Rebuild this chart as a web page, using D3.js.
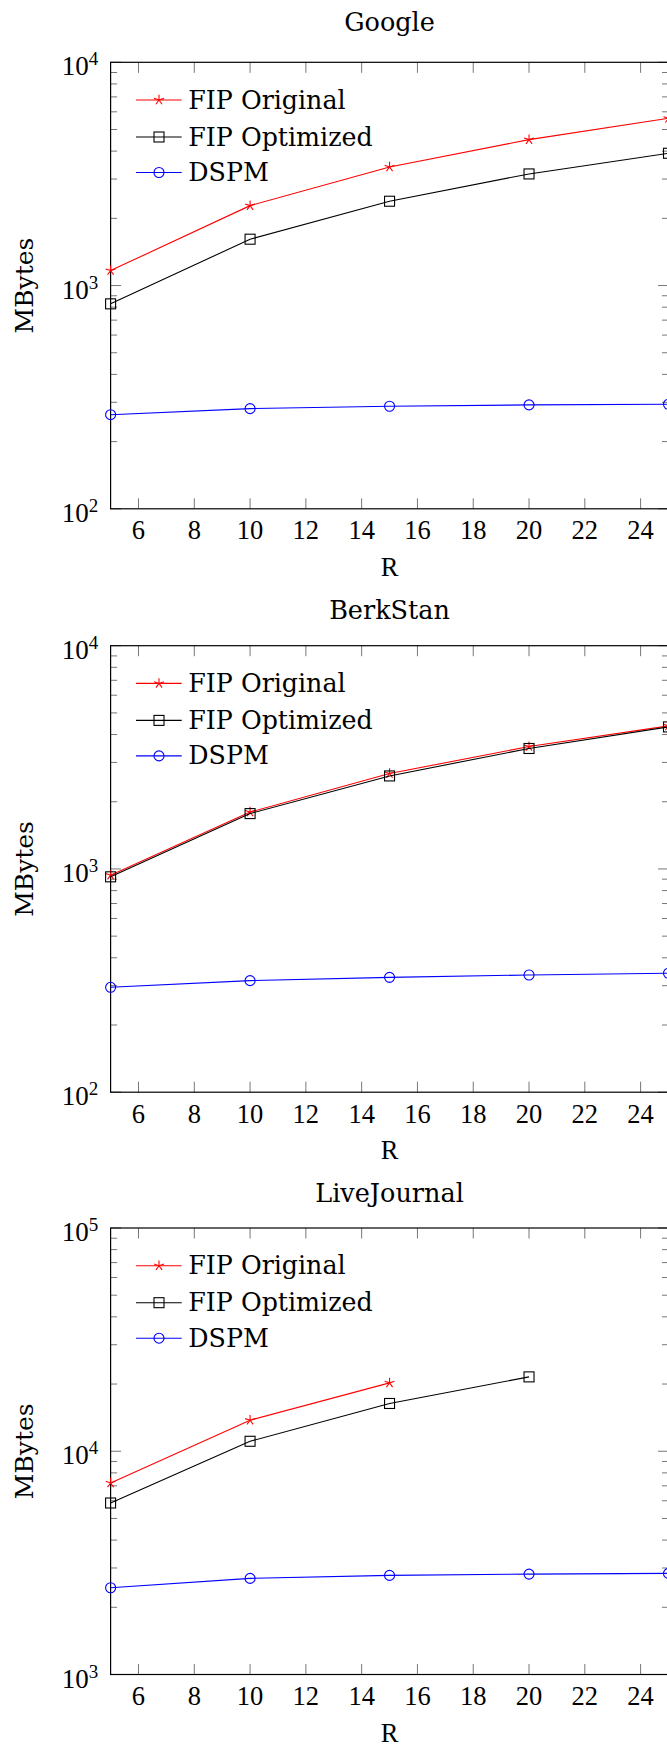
<!DOCTYPE html>
<html>
<head>
<meta charset="utf-8">
<script src="https://cdn.jsdelivr.net/npm/d3@7"></script>
<style>
  html, body { margin: 0; padding: 0; background: #fff; }
  svg { display: block; }
  text { font-family: "Liberation Serif", "Times New Roman", serif; fill: #000; }
  text.slab { font-family: "DejaVu Serif", serif; }
</style>
</head>
<body>
<svg id="chart" width="667" height="1747"></svg>
<script>
// ---------------- data ----------------
const R = [5, 10, 15, 20, 25];
const xTicks = [6, 8, 10, 12, 14, 16, 18, 20, 22, 24];
const chartTitles = ["Google", "BerkStan", "LiveJournal"];
const seriesNames = ["FIP Original", "FIP Optimized", "DSPM"];

const googleOriginal  = [1167, 2280, 3398, 4505, 5613];
const googleOptimized = [828, 1613, 2386, 3162, 3913];
const googleDSPM      = [264, 281, 288, 292, 294];

const berkOriginal  = [938, 1798, 2675, 3533, 4375];
const berkOptimized = [922, 1770, 2610, 3464, 4327];
const berkDSPM      = [295, 316, 327, 335, 341];

const ljOriginal  = [7211, 13772, 20244, null, null];
const ljOptimized = [5865, 11084, 16368, 21533, null];
const ljDSPM      = [2447, 2695, 2779, 2817, 2837];

const yDomains = [[1e2, 1e4], [1e2, 1e4], [1e3, 1e5]];
const yExponents = [[2, 3, 4], [2, 3, 4], [3, 4, 5]];

const chartSeries = [
  [googleOriginal, googleOptimized, googleDSPM],
  [berkOriginal, berkOptimized, berkDSPM],
  [ljOriginal, ljOptimized, ljDSPM]
];

// ---------------- layout / style ----------------
const plotTops = [62.3, 645.7, 1228];
const titleOffsets = [31.6, 26.4, 26.3];
const plotH = 446.5;
const plotL = 110.6, plotR = 668.5;
const colors = ["#ff0000", "#000000", "#0000ff"];
const markers = ["star", "square", "circle"];

const svg = d3.select("#chart");

function drawMarker(g, type, cx, cy, color) {
  if (type === "star") {
    const r = 5.2;
    for (let k = 0; k < 5; k++) {
      const a = (90 + k * 72) * Math.PI / 180;
      g.append("line")
        .attr("x1", cx).attr("y1", cy)
        .attr("x2", cx + r * Math.cos(a)).attr("y2", cy - r * Math.sin(a))
        .attr("stroke", color).attr("stroke-width", 1.1);
    }
  } else if (type === "square") {
    g.append("rect")
      .attr("x", cx - 5).attr("y", cy - 5)
      .attr("width", 10).attr("height", 10)
      .attr("fill", "none").attr("stroke", color).attr("stroke-width", 1.1);
  } else {
    g.append("circle")
      .attr("cx", cx).attr("cy", cy).attr("r", 5)
      .attr("fill", "none").attr("stroke", color).attr("stroke-width", 1.1);
  }
}

chartTitles.forEach((title, ci) => {
  const top = plotTops[ci];
  const bottom = top + plotH;
  const x = d3.scaleLinear().domain([5, 25]).range([plotL, plotR]);
  const y = d3.scaleLog().domain(yDomains[ci]).range([bottom, top]);
  const g = svg.append("g");

  // title
  g.append("text").attr("class", "slab")
    .attr("x", (plotL + plotR) / 2).attr("y", top - titleOffsets[ci])
    .attr("text-anchor", "middle").attr("font-size", 25.5)
    .text(title);

  // minor y ticks (both sides)
  const [e0, e1] = yExponents[ci];
  const minor = [];
  [e0, e1].forEach(e => { for (let m = 2; m <= 9; m++) minor.push(m * Math.pow(10, e)); });
  minor.forEach(v => {
    g.append("line").attr("x1", plotL).attr("x2", plotL + 6.5)
      .attr("y1", y(v)).attr("y2", y(v)).attr("stroke", "#777").attr("stroke-width", 1);
    g.append("line").attr("x1", plotR).attr("x2", plotR - 6.5)
      .attr("y1", y(v)).attr("y2", y(v)).attr("stroke", "#777").attr("stroke-width", 1);
  });
  // major y ticks
  yExponents[ci].forEach(e => {
    const v = Math.pow(10, e);
    g.append("line").attr("x1", plotL).attr("x2", plotL + 10.5)
      .attr("y1", y(v)).attr("y2", y(v)).attr("stroke", "#777").attr("stroke-width", 1);
    g.append("line").attr("x1", plotR).attr("x2", plotR - 10.5)
      .attr("y1", y(v)).attr("y2", y(v)).attr("stroke", "#777").attr("stroke-width", 1);
    const t = g.append("text")
      .attr("x", plotL - 12.3).attr("y", y(v) + 13)
      .attr("text-anchor", "end").attr("font-size", 27);
    t.append("tspan").text("10");
    t.append("tspan").attr("font-size", 19).attr("dy", -10).text(String(e));
  });

  // x ticks (top and bottom)
  xTicks.forEach(tv => {
    g.append("line").attr("x1", x(tv)).attr("x2", x(tv))
      .attr("y1", bottom).attr("y2", bottom - 10.5).attr("stroke", "#777").attr("stroke-width", 1);
    g.append("line").attr("x1", x(tv)).attr("x2", x(tv))
      .attr("y1", top).attr("y2", top + 10.5).attr("stroke", "#777").attr("stroke-width", 1);
    g.append("text")
      .attr("x", x(tv)).attr("y", bottom + 30.3)
      .attr("text-anchor", "middle").attr("font-size", 26.5)
      .text(tv);
  });

  // frame
  g.append("rect")
    .attr("x", plotL).attr("y", top)
    .attr("width", plotR - plotL).attr("height", plotH)
    .attr("fill", "none").attr("stroke", "#000").attr("stroke-width", 1.2);

  // axis labels
  g.append("text")
    .attr("x", (plotL + plotR) / 2).attr("y", bottom + 67)
    .attr("text-anchor", "middle").attr("font-size", 26.5)
    .text("R");
  g.append("text").attr("class", "slab")
    .attr("transform", `translate(33.3, ${(top + bottom) / 2}) rotate(-90)`)
    .attr("text-anchor", "middle").attr("font-size", 25)
    .text("MBytes");

  // series
  chartSeries[ci].forEach((vals, si) => {
    const pts = R.map((r, i) => [r, vals[i]]).filter(d => d[1] != null);
    const line = d3.line().x(d => x(d[0])).y(d => y(d[1]));
    g.append("path").attr("d", line(pts))
      .attr("fill", "none").attr("stroke", colors[si]).attr("stroke-width", 1.1);
    pts.forEach(d => drawMarker(g, markers[si], x(d[0]), y(d[1]), colors[si]));
  });

  // legend
  const legendRows = [37.7, 74.7, 110.2];
  seriesNames.forEach((name, si) => {
    const ly = top + legendRows[si];
    g.append("line").attr("x1", 136).attr("x2", 181.7)
      .attr("y1", ly).attr("y2", ly)
      .attr("stroke", colors[si]).attr("stroke-width", 1.1);
    drawMarker(g, markers[si], 159, ly, colors[si]);
    g.append("text").attr("class", "slab")
      .attr("x", 188.3).attr("y", ly + 8.5)
      .attr("font-size", 25.3)
      .text(name);
  });
});
</script>
</body>
</html>
